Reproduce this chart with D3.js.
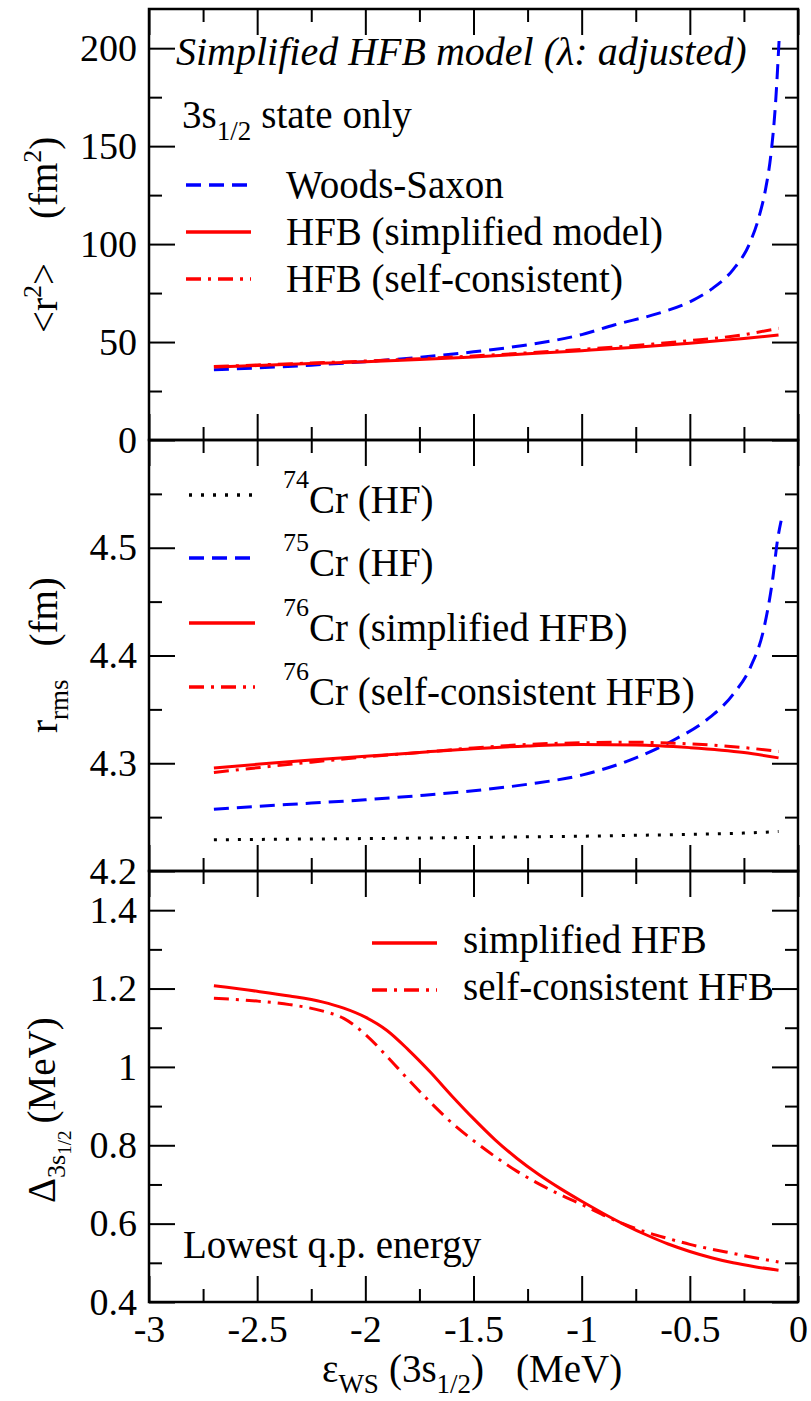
<!DOCTYPE html>
<html>
<head>
<meta charset="utf-8">
<script src="https://cdnjs.cloudflare.com/ajax/libs/d3/7.8.5/d3.min.js"></script>
<style>
  body { margin: 0; background: #fff; }
  svg { display: block; font-family: "Liberation Serif", "Times New Roman", serif; }
</style>
</head>
<body>
<svg width="811" height="1401"></svg>
<script>
var svg = d3.select("svg"),
    width = +svg.attr("width"),
    height = +svg.attr("height");

// x: WS single-particle energy of the 3s1/2 level (MeV)
var xMajor = [-3, -2.5, -2, -1.5, -1, -0.5, 0];
var xMinor = [-2.75, -2.25, -1.75, -1.25, -0.75, -0.25];

// top panel: <r^2> of the 3s1/2 state (fm^2)
var r2WsX = [-2.7, -2.5, -2.25, -2.0, -1.75, -1.5, -1.25, -1.0, -0.85, -0.65, -0.5, -0.4, -0.3, -0.225, -0.18, -0.15, -0.125, -0.105, -0.086];
var r2Ws  = [35.8, 36.8, 38.2, 40.0, 42.2, 45.0, 48.6, 53.8, 58.7, 64.5, 70.5, 77, 87, 100, 114, 128, 146, 170, 207];
var r2X = [-2.7, -2.5, -2.25, -2.0, -1.75, -1.5, -1.25, -1.0, -0.75, -0.5, -0.25, -0.09];
var r2HfbSimple = [37.2, 38.0, 39.0, 40.0, 41.1, 42.4, 44.0, 45.6, 47.3, 49.4, 51.8, 53.6];
var r2HfbSelf   = [37.5, 38.3, 39.3, 40.3, 41.5, 42.9, 44.5, 46.3, 48.3, 50.7, 53.8, 57.0];
var r2Labels = ["Woods-Saxon", "HFB (simplified model)", "HFB (self-consistent)"];

// middle panel: rms radii (fm)
var rmsX = [-2.7, -2.5, -2.25, -2.0, -1.75, -1.5, -1.25, -1.0, -0.75, -0.5, -0.25, -0.09];
var rms74 = [4.2290, 4.2293, 4.2297, 4.2301, 4.2306, 4.2311, 4.2317, 4.2323, 4.2331, 4.2340, 4.2352, 4.2366];
var rms76Simple = [4.2956, 4.2990, 4.3030, 4.3064, 4.3100, 4.3135, 4.3160, 4.3173, 4.3170, 4.3145, 4.3100, 4.3050];
var rms76Self   = [4.2915, 4.2958, 4.3010, 4.3058, 4.3100, 4.3142, 4.3175, 4.3190, 4.3195, 4.3180, 4.3145, 4.3110];
var rms75X = [-2.7, -2.5, -2.25, -2.0, -1.75, -1.5, -1.25, -1.0, -0.75, -0.57, -0.42, -0.3, -0.22, -0.155, -0.117, -0.094, -0.078];
var rms75  = [4.2574, 4.2600, 4.2630, 4.2661, 4.2700, 4.2745, 4.2805, 4.2890, 4.3050, 4.3220, 4.3406, 4.3640, 4.3890, 4.4275, 4.4710, 4.5080, 4.5250];
var rmsMass = ["74", "75", "76", "76"];
var rmsLabels = ["Cr (HF)", "Cr (HF)", "Cr (simplified HFB)", "Cr (self-consistent HFB)"];

// bottom panel: lowest q.p. energy (MeV)
var gapX = [-2.7, -2.5, -2.35, -2.2, -2.1, -2.0, -1.9, -1.8, -1.7, -1.6, -1.5, -1.4, -1.3, -1.2, -1.1, -1.0, -0.9, -0.8, -0.7, -0.6, -0.5, -0.4, -0.3, -0.2, -0.09];
var gapSimple = [1.207, 1.193, 1.181, 1.166, 1.150, 1.127, 1.093, 1.043, 0.987, 0.926, 0.868, 0.814, 0.767, 0.726, 0.690, 0.657, 0.626, 0.597, 0.571, 0.548, 0.529, 0.513, 0.500, 0.490, 0.481];
var gapSelf   = [1.175, 1.168, 1.159, 1.143, 1.124, 1.083, 1.027, 0.967, 0.910, 0.857, 0.812, 0.771, 0.734, 0.702, 0.674, 0.649, 0.622, 0.598, 0.578, 0.562, 0.547, 0.535, 0.524, 0.513, 0.502];
var gapLabels = ["simplified HFB", "self-consistent HFB"];

var left = 149, right = 798, plotTop = 9, panelH = 431;
var red = "#ff0000", blue = "#0000ff";
var dash = "15,8", dot = "3,9", dashdot = "15,7,3,7";

var x = d3.scaleLinear().domain([-3, 0]).range([left, right]);

var panels = [
  {domain: [0, 220], major: [0, 50, 100, 150, 200], minor: [25, 75, 125, 175]},
  {domain: [4.2, 4.6], major: [4.2, 4.3, 4.4, 4.5], minor: [4.25, 4.35, 4.45, 4.55]},
  {domain: [0.4, 1.5], major: [0.4, 0.6, 0.8, 1, 1.2, 1.4], minor: [0.5, 0.7, 0.9, 1.1, 1.3]}
];

panels.forEach(function(p, i) {
  p.y0 = plotTop + i * panelH;
  p.y1 = p.y0 + panelH;
  p.y = d3.scaleLinear().domain(p.domain).range([p.y1, p.y0]);
});

function styleAxis(g) {
  g.select(".domain").remove();
  g.attr("font-size", 38).attr("font-family", null);
  g.selectAll(".tick line").attr("stroke-width", 2);
}

var fmt = function(d) { return d + ""; };

panels.forEach(function(p, i) {
  var g = svg.append("g");
  // y ticks, inward on both sides
  g.append("g").attr("transform", "translate(" + left + ",0)")
    .call(d3.axisLeft(p.y).tickValues(p.major).tickSize(-26).tickPadding(12).tickFormat(fmt))
    .call(styleAxis);
  g.append("g").attr("transform", "translate(" + left + ",0)")
    .call(d3.axisLeft(p.y).tickValues(p.minor).tickSize(-13).tickFormat(""))
    .call(styleAxis);
  g.append("g").attr("transform", "translate(" + right + ",0)")
    .call(d3.axisRight(p.y).tickValues(p.major).tickSize(-26).tickFormat(""))
    .call(styleAxis);
  g.append("g").attr("transform", "translate(" + right + ",0)")
    .call(d3.axisRight(p.y).tickValues(p.minor).tickSize(-13).tickFormat(""))
    .call(styleAxis);
  // x ticks on top and bottom of every panel
  g.append("g").attr("transform", "translate(0," + p.y0 + ")")
    .call(d3.axisTop(x).tickValues(xMajor).tickSize(-26).tickFormat(""))
    .call(styleAxis);
  g.append("g").attr("transform", "translate(0," + p.y0 + ")")
    .call(d3.axisTop(x).tickValues(xMinor).tickSize(-13).tickFormat(""))
    .call(styleAxis);
  g.append("g").attr("transform", "translate(0," + p.y1 + ")")
    .call(d3.axisBottom(x).tickValues(xMajor).tickSize(-26).tickPadding(13)
      .tickFormat(i == 2 ? fmt : ""))
    .call(styleAxis);
  g.append("g").attr("transform", "translate(0," + p.y1 + ")")
    .call(d3.axisBottom(x).tickValues(xMinor).tickSize(-13).tickFormat(""))
    .call(styleAxis);

  g.append("rect")
    .attr("x", left).attr("y", p.y0)
    .attr("width", right - left).attr("height", panelH)
    .attr("fill", "none").attr("stroke", "#000").attr("stroke-width", 2.5);
});

function curve(p, xs, ys, color, dasharray) {
  var line = d3.line()
    .x(function(d) { return x(d[0]); })
    .y(function(d) { return p.y(d[1]); })
    .curve(d3.curveMonotoneX);
  svg.append("path")
    .datum(d3.zip(xs, ys))
    .attr("d", line)
    .attr("fill", "none")
    .attr("stroke", color)
    .attr("stroke-width", 3)
    .attr("stroke-dasharray", dasharray);
}

function sample(x1, x2, y, color, dasharray) {
  svg.append("line")
    .attr("x1", x1).attr("x2", x2).attr("y1", y).attr("y2", y)
    .attr("stroke", color).attr("stroke-width", 3.5)
    .attr("stroke-dasharray", dasharray);
}

// ---- top panel
var pA = panels[0];
curve(pA, r2WsX, r2Ws, blue, dash);
curve(pA, r2X, r2HfbSimple, red, null);
curve(pA, r2X, r2HfbSelf, red, dashdot);

svg.append("text")
  .attr("x", 176).attr("y", 65)
  .attr("font-size", 40).attr("font-style", "italic")
  .text("Simplified HFB model (\u03bb: adjusted)");

var st = svg.append("text").attr("x", 182).attr("y", 128).attr("font-size", 39);
st.append("tspan").text("3s");
st.append("tspan").attr("font-size", 27).attr("dy", 12).text("1/2");
st.append("tspan").attr("dy", -12).attr("dx", 10).text("state only");

var topStyles = [[blue, dash], [red, null], [red, dashdot]];
[185, 232, 279].forEach(function(yy, i) {
  sample(186, 251, yy, topStyles[i][0], topStyles[i][1]);
  svg.append("text").attr("x", 286).attr("y", yy + 13)
    .attr("font-size", 39).text(r2Labels[i]);
});

// ---- middle panel
var pB = panels[1];
curve(pB, rmsX, rms74, "#000", dot);
curve(pB, rms75X, rms75, blue, dash);
curve(pB, rmsX, rms76Simple, red, null);
curve(pB, rmsX, rms76Self, red, dashdot);

var midStyles = [["#000", dot], [blue, dash], [red, null], [red, dashdot]];
[495, 558, 623, 687].forEach(function(yy, i) {
  sample(189, 255, yy, midStyles[i][0], midStyles[i][1]);
  var t = svg.append("text").attr("x", 283).attr("y", yy - 7);
  t.append("tspan").attr("font-size", 26).text(rmsMass[i]);
  t.append("tspan").attr("font-size", 39).attr("dy", 25).text(rmsLabels[i]);
});

// ---- bottom panel
var pC = panels[2];
curve(pC, gapX, gapSimple, red, null);
curve(pC, gapX, gapSelf, red, dashdot);

var botStyles = [[red, null], [red, dashdot]];
[943, 990].forEach(function(yy, i) {
  sample(372, 437, yy, botStyles[i][0], botStyles[i][1]);
  svg.append("text").attr("x", 463).attr("y", yy + 10)
    .attr("font-size", 39).text(gapLabels[i]);
});

svg.append("text")
  .attr("x", 183).attr("y", 1258)
  .attr("font-size", 39)
  .text("Lowest q.p. energy");

// ---- axis titles
var ya = svg.append("text").attr("transform", "translate(57,333) rotate(-90)").attr("font-size", 39);
ya.append("tspan").text("<r");
ya.append("tspan").attr("font-size", 26).attr("dy", -16).text("2");
ya.append("tspan").attr("dy", 16).text(">");
ya.append("tspan").attr("dx", 44).text("(fm");
ya.append("tspan").attr("font-size", 26).attr("dy", -16).text("2");
ya.append("tspan").attr("dy", 16).text(")");

var yb = svg.append("text").attr("transform", "translate(57,733) rotate(-90)").attr("font-size", 39);
yb.append("tspan").text("r");
yb.append("tspan").attr("font-size", 27).attr("dy", 11).text("rms");
yb.append("tspan").attr("dy", -11).attr("dx", 33).text("(fm)");

var yc = svg.append("text").attr("transform", "translate(55,1203) rotate(-90)").attr("font-size", 39);
yc.append("tspan").text("\u0394");
yc.append("tspan").attr("font-size", 26).attr("dy", 10).text("3s");
yc.append("tspan").attr("font-size", 19).attr("dy", 6).text("1/2");
yc.append("tspan").attr("dy", -16).attr("dx", 7).text("(MeV)");

var xt = svg.append("text").attr("x", 322).attr("y", 1382).attr("font-size", 39);
xt.append("tspan").text("\u03b5");
xt.append("tspan").attr("font-size", 27).attr("dy", 11).text("WS");
xt.append("tspan").attr("dy", -11).attr("dx", 10).text("(3s");
xt.append("tspan").attr("font-size", 27).attr("dy", 11).text("1/2");
xt.append("tspan").attr("dy", -11).text(")");
xt.append("tspan").attr("dx", 32).text("(MeV)");
</script>
</body>
</html>
